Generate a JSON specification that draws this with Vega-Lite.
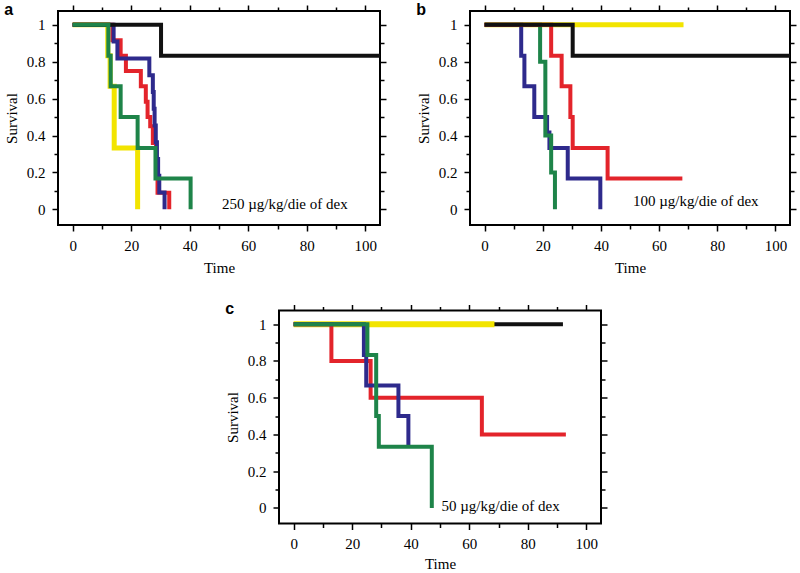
{
  "$schema": "https://vega.github.io/schema/vega-lite/v6.json",
  "padding": {"left": 3, "top": 0, "right": 0, "bottom": 0},
  "background": "white",
  "config": {
    "view": {"stroke": "black", "strokeWidth": 2},
    "axis": {
      "labelFont": "Liberation Serif", "labelFontSize": 15, "labelColor": "black",
      "titleFont": "Liberation Serif", "titleFontSize": 15, "titleFontWeight": "normal", "titleColor": "black",
      "tickColor": "black", "tickWidth": 1.5, "domain": false, "grid": false,
      "labelPadding": 7, "titlePadding": 7, "labelFlush": false, "labelOverlap": false
    },
    "title": {"font": "Liberation Sans", "fontSize": 16, "fontWeight": "bold", "color": "black", "anchor": "start", "frame": "bounds", "offset": -13.5, "baseline": "alphabetic"}
  },
  "datasets": {
    "km": [
      {"p": "a", "g": "yellow", "t": 0, "s": 1},
      {"p": "a", "g": "yellow", "t": 12, "s": 0.833},
      {"p": "a", "g": "yellow", "t": 12.8, "s": 0.667},
      {"p": "a", "g": "yellow", "t": 14.2, "s": 0.333},
      {"p": "a", "g": "yellow", "t": 22.2, "s": 0},
      {"p": "a", "g": "red", "t": 0, "s": 1},
      {"p": "a", "g": "red", "t": 13.6, "s": 0.917},
      {"p": "a", "g": "red", "t": 16.4, "s": 0.833},
      {"p": "a", "g": "red", "t": 18.2, "s": 0.75},
      {"p": "a", "g": "red", "t": 23.3, "s": 0.667},
      {"p": "a", "g": "red", "t": 25, "s": 0.583},
      {"p": "a", "g": "red", "t": 25.6, "s": 0.5},
      {"p": "a", "g": "red", "t": 26.5, "s": 0.45},
      {"p": "a", "g": "red", "t": 27.4, "s": 0.36},
      {"p": "a", "g": "red", "t": 28.5, "s": 0.18},
      {"p": "a", "g": "red", "t": 29, "s": 0.09},
      {"p": "a", "g": "red", "t": 33, "s": 0},
      {"p": "a", "g": "blue", "t": 0, "s": 1},
      {"p": "a", "g": "blue", "t": 14, "s": 0.909},
      {"p": "a", "g": "blue", "t": 15.3, "s": 0.818},
      {"p": "a", "g": "blue", "t": 26.2, "s": 0.727},
      {"p": "a", "g": "blue", "t": 27.4, "s": 0.636},
      {"p": "a", "g": "blue", "t": 27.7, "s": 0.545},
      {"p": "a", "g": "blue", "t": 28, "s": 0.455},
      {"p": "a", "g": "blue", "t": 28.4, "s": 0.364},
      {"p": "a", "g": "blue", "t": 28.8, "s": 0.273},
      {"p": "a", "g": "blue", "t": 29.2, "s": 0.182},
      {"p": "a", "g": "blue", "t": 29.6, "s": 0.091},
      {"p": "a", "g": "blue", "t": 31.4, "s": 0},
      {"p": "a", "g": "black", "t": 0, "s": 1},
      {"p": "a", "g": "black", "t": 30.2, "s": 0.833},
      {"p": "a", "g": "black", "t": 105, "s": 0.833},
      {"p": "a", "g": "green", "t": 0, "s": 1},
      {"p": "a", "g": "green", "t": 12.2, "s": 0.833},
      {"p": "a", "g": "green", "t": 13, "s": 0.667},
      {"p": "a", "g": "green", "t": 16.4, "s": 0.5},
      {"p": "a", "g": "green", "t": 22.2, "s": 0.333},
      {"p": "a", "g": "green", "t": 28.3, "s": 0.167},
      {"p": "a", "g": "green", "t": 40.3, "s": 0},

      {"p": "b", "g": "yellow", "t": 0, "s": 1},
      {"p": "b", "g": "yellow", "t": 68.4, "s": 1},
      {"p": "b", "g": "blue", "t": 0, "s": 1},
      {"p": "b", "g": "blue", "t": 12.6, "s": 0.833},
      {"p": "b", "g": "blue", "t": 13.7, "s": 0.667},
      {"p": "b", "g": "blue", "t": 17.1, "s": 0.5},
      {"p": "b", "g": "blue", "t": 21.5, "s": 0.417},
      {"p": "b", "g": "blue", "t": 22.3, "s": 0.333},
      {"p": "b", "g": "blue", "t": 28.6, "s": 0.167},
      {"p": "b", "g": "blue", "t": 39.8, "s": 0},
      {"p": "b", "g": "green", "t": 0, "s": 1},
      {"p": "b", "g": "green", "t": 19.1, "s": 0.8},
      {"p": "b", "g": "green", "t": 20.9, "s": 0.4},
      {"p": "b", "g": "green", "t": 22.9, "s": 0.2},
      {"p": "b", "g": "green", "t": 24.2, "s": 0},
      {"p": "b", "g": "red", "t": 0, "s": 1},
      {"p": "b", "g": "red", "t": 22.9, "s": 0.833},
      {"p": "b", "g": "red", "t": 26.5, "s": 0.667},
      {"p": "b", "g": "red", "t": 29.5, "s": 0.5},
      {"p": "b", "g": "red", "t": 30.3, "s": 0.333},
      {"p": "b", "g": "red", "t": 42.3, "s": 0.167},
      {"p": "b", "g": "red", "t": 68, "s": 0.167},
      {"p": "b", "g": "black", "t": 0, "s": 1},
      {"p": "b", "g": "black", "t": 30.3, "s": 0.833},
      {"p": "b", "g": "black", "t": 105, "s": 0.833},

      {"p": "c", "g": "black", "t": 0, "s": 1},
      {"p": "c", "g": "black", "t": 92, "s": 1},
      {"p": "c", "g": "yellow", "t": 0, "s": 1},
      {"p": "c", "g": "yellow", "t": 68.6, "s": 1},
      {"p": "c", "g": "red", "t": 0, "s": 1},
      {"p": "c", "g": "red", "t": 12.9, "s": 0.8},
      {"p": "c", "g": "red", "t": 26.3, "s": 0.6},
      {"p": "c", "g": "red", "t": 64.3, "s": 0.4},
      {"p": "c", "g": "red", "t": 93, "s": 0.4},
      {"p": "c", "g": "blue", "t": 0, "s": 1},
      {"p": "c", "g": "blue", "t": 24, "s": 0.833},
      {"p": "c", "g": "blue", "t": 24.8, "s": 0.667},
      {"p": "c", "g": "blue", "t": 35.8, "s": 0.5},
      {"p": "c", "g": "blue", "t": 39.2, "s": 0.333},
      {"p": "c", "g": "green", "t": 0, "s": 1},
      {"p": "c", "g": "green", "t": 25.2, "s": 0.833},
      {"p": "c", "g": "green", "t": 28.2, "s": 0.5},
      {"p": "c", "g": "green", "t": 29.1, "s": 0.333},
      {"p": "c", "g": "green", "t": 47.2, "s": 0}
    ]
  },
  "spacing": 23.5,
  "vconcat": [
    {
      "spacing": 27,
      "hconcat": [
        {
          "title": {"text": "a"},
          "width": 322, "height": 214,
          "resolve": {"axis": {"x": "independent", "y": "independent"}},
          "layer": [
            {
              "data": {"name": "km"},
              "transform": [{"filter": "datum.p == 'a'"}],
              "mark": {"type": "line", "interpolate": "step-after", "clip": true},
              "encoding": {
                "x": {"field": "t", "type": "quantitative", "scale": {"domain": [-5, 105], "nice": false, "zero": false},
                  "axis": {"orient": "bottom", "title": "Time", "values": [0,10,20,30,40,50,60,70,80,90,100], "labelExpr": "datum.value % 20 == 0 ? datum.label : ''", "tickSize": {"condition": {"test": "datum.value % 20 == 0", "value": 6}, "value": 4}}},
                "y": {"field": "s", "type": "quantitative", "scale": {"domain": [-0.085, 1.075], "nice": false, "zero": false},
                  "axis": {"orient": "left", "title": "Survival", "values": [0,0.1,0.2,0.3,0.4,0.5,0.6,0.7,0.8,0.9,1], "labelExpr": "round(datum.value*10) % 2 == 0 ? format(datum.value, '~g') : ''", "tickSize": {"condition": {"test": "round(datum.value*10) % 2 == 0", "value": 6}, "value": 4}}},
                "color": {"field": "g", "type": "nominal", "legend": null, "scale": {"domain": ["black", "yellow", "green", "red", "blue"], "range": ["#111111", "#f2e400", "#1e8449", "#e3242b", "#2e2a8c"]}},
                "strokeWidth": {"condition": {"test": "datum.g == 'yellow'", "value": 5}, "value": 4}
              }
            },
            {
              "data": {"values": [{"label": "250 µg/kg/die of dex"}]},
              "mark": {"type": "text", "align": "left", "baseline": "alphabetic", "font": "Liberation Serif", "fontSize": 15, "color": "black"},
              "encoding": {
                "x": {"datum": 51, "axis": {"orient": "top", "title": null, "labels": false, "values": [0,10,20,30,40,50,60,70,80,90,100], "tickSize": {"condition": {"test": "datum.value % 20 == 0", "value": 6}, "value": 4}}},
                "y": {"datum": 0, "axis": {"orient": "right", "title": null, "labels": false, "values": [0,0.1,0.2,0.3,0.4,0.5,0.6,0.7,0.8,0.9,1], "tickSize": {"condition": {"test": "round(datum.value*10) % 2 == 0", "value": 6}, "value": 4}}},
                "text": {"field": "label", "type": "nominal"}
              }
            }
          ]
        },
        {
          "title": {"text": "b"},
          "width": 320, "height": 214,
          "resolve": {"axis": {"x": "independent", "y": "independent"}},
          "layer": [
            {
              "data": {"name": "km"},
              "transform": [{"filter": "datum.p == 'b'"}],
              "mark": {"type": "line", "interpolate": "step-after", "clip": true},
              "encoding": {
                "x": {"field": "t", "type": "quantitative", "scale": {"domain": [-5, 105], "nice": false, "zero": false},
                  "axis": {"orient": "bottom", "title": "Time", "values": [0,10,20,30,40,50,60,70,80,90,100], "labelExpr": "datum.value % 20 == 0 ? datum.label : ''", "tickSize": {"condition": {"test": "datum.value % 20 == 0", "value": 6}, "value": 4}}},
                "y": {"field": "s", "type": "quantitative", "scale": {"domain": [-0.085, 1.075], "nice": false, "zero": false},
                  "axis": {"orient": "left", "title": "Survival", "values": [0,0.1,0.2,0.3,0.4,0.5,0.6,0.7,0.8,0.9,1], "labelExpr": "round(datum.value*10) % 2 == 0 ? format(datum.value, '~g') : ''", "tickSize": {"condition": {"test": "round(datum.value*10) % 2 == 0", "value": 6}, "value": 4}}},
                "color": {"field": "g", "type": "nominal", "legend": null, "scale": {"domain": ["black", "yellow", "green", "red", "blue"], "range": ["#111111", "#f2e400", "#1e8449", "#e3242b", "#2e2a8c"]}},
                "strokeWidth": {"condition": {"test": "datum.g == 'yellow'", "value": 5}, "value": 4}
              }
            },
            {
              "data": {"values": [{"label": "100 µg/kg/die of dex"}]},
              "mark": {"type": "text", "align": "left", "baseline": "alphabetic", "font": "Liberation Serif", "fontSize": 15, "color": "black"},
              "encoding": {
                "x": {"datum": 51, "axis": {"orient": "top", "title": null, "labels": false, "values": [0,10,20,30,40,50,60,70,80,90,100], "tickSize": {"condition": {"test": "datum.value % 20 == 0", "value": 6}, "value": 4}}},
                "y": {"datum": 0.02, "axis": {"orient": "right", "title": null, "labels": false, "values": [0,0.1,0.2,0.3,0.4,0.5,0.6,0.7,0.8,0.9,1], "tickSize": {"condition": {"test": "round(datum.value*10) % 2 == 0", "value": 6}, "value": 4}}},
                "text": {"field": "label", "type": "nominal"}
              }
            }
          ]
        }
      ]
    },
    {
      "spacing": 0,
      "hconcat": [
        {"width": 166, "height": 10, "data": {"values": []}, "mark": "point", "view": {"stroke": null}},
        {
          "title": {"text": "c"},
          "width": 322, "height": 213,
          "resolve": {"axis": {"x": "independent", "y": "independent"}},
          "layer": [
            {
              "data": {"name": "km"},
              "transform": [{"filter": "datum.p == 'c'"}],
              "mark": {"type": "line", "interpolate": "step-after", "clip": true},
              "encoding": {
                "x": {"field": "t", "type": "quantitative", "scale": {"domain": [-5, 105], "nice": false, "zero": false},
                  "axis": {"orient": "bottom", "title": "Time", "titlePadding": 5, "values": [0,10,20,30,40,50,60,70,80,90,100], "labelExpr": "datum.value % 20 == 0 ? datum.label : ''", "tickSize": {"condition": {"test": "datum.value % 20 == 0", "value": 6}, "value": 4}}},
                "y": {"field": "s", "type": "quantitative", "scale": {"domain": [-0.085, 1.075], "nice": false, "zero": false},
                  "axis": {"orient": "left", "title": "Survival", "values": [0,0.1,0.2,0.3,0.4,0.5,0.6,0.7,0.8,0.9,1], "labelExpr": "round(datum.value*10) % 2 == 0 ? format(datum.value, '~g') : ''", "tickSize": {"condition": {"test": "round(datum.value*10) % 2 == 0", "value": 6}, "value": 4}}},
                "color": {"field": "g", "type": "nominal", "legend": null, "scale": {"domain": ["black", "yellow", "green", "red", "blue"], "range": ["#111111", "#f2e400", "#1e8449", "#e3242b", "#2e2a8c"]}},
                "strokeWidth": {"condition": {"test": "datum.g == 'yellow'", "value": 6}, "value": 4}
              }
            },
            {
              "data": {"values": [{"label": "50 µg/kg/die of dex"}]},
              "mark": {"type": "text", "align": "left", "baseline": "alphabetic", "font": "Liberation Serif", "fontSize": 15, "color": "black"},
              "encoding": {
                "x": {"datum": 50.5, "axis": {"orient": "top", "title": null, "labels": false, "values": [0,10,20,30,40,50,60,70,80,90,100], "tickSize": {"condition": {"test": "datum.value % 20 == 0", "value": 6}, "value": 4}}},
                "y": {"datum": -0.015, "axis": {"orient": "right", "title": null, "labels": false, "values": [0,0.1,0.2,0.3,0.4,0.5,0.6,0.7,0.8,0.9,1], "tickSize": {"condition": {"test": "round(datum.value*10) % 2 == 0", "value": 6}, "value": 4}}},
                "text": {"field": "label", "type": "nominal"}
              }
            }
          ]
        }
      ]
    }
  ]
}
